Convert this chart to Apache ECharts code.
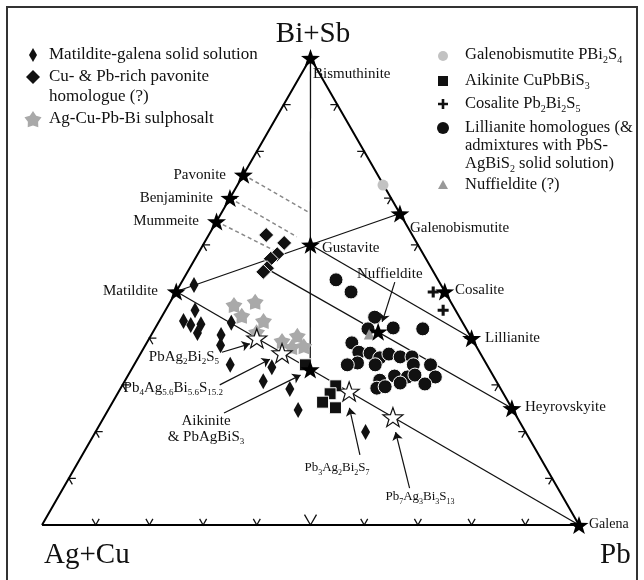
<!DOCTYPE html>
<html>
<head>
<meta charset="utf-8">
<script src="https://cdn.jsdelivr.net/npm/echarts@6/dist/echarts.min.js"></script>
<style>
html,body{margin:0;padding:0;background:#fff}
#main{width:644px;height:580px}
</style>
</head>
<body>
<div id="main"></div>
<script>
// all compositions are [Pb %, Bi+Sb %]; Ag+Cu is the remainder
var corners = [[0,0],[100,0],[0,100],[0,0]];
var tickFracs = [10,20,30,40,50,60,70,80,90];

var mineralNames = ['Bismuthinite','Pavonite','Benjaminite','Mummeite','Matildite','Gustavite',
  'Galenobismutite','Cosalite','Lillianite','Heyrovskyite','Galena','Aikinite','Nuffieldite'];
var mineralComp = [[0,100],[0,75],[0,70],[0,65],[0,50],[20,60],
  [33.3,66.7],[50,50],[60,40],[75,25],[100,0],[33.3,33.3],[41.9,41.4]];

// synthetic phases on the matildite-galena join
var synthComp = [[20,40],[26.3,36.8],[42.9,28.6],[53.8,23.1]];

var matGalena = [[2.6,51.4],[5.5,46.0],[4.5,43.7],[6.3,42.8],[8.1,43.0],[8.4,41.1],[13.6,43.3],
  [13.0,40.7],[14.0,38.5],[17.9,34.3],[25.9,33.8],[25.8,30.8],[31.6,29.1],[35.4,24.6],[50.3,19.9]];
var pavHomologue = [[10.7,62.1],[14.9,60.4],[14.8,58.0],[14.1,57.0],[14.4,55.0],[14.1,54.2]];
var sulphosalt = [[12.2,47.1],[15.8,47.8],[14.8,44.8],[19.4,43.7],[19.3,41.3],[25.0,39.4],
  [27.3,40.5],[27.5,38.1],[29.6,38.3]];
var galenobis = [[27.1,72.8]];
var aikinite = [[31.9,34.3],[39.8,29.8],[39.6,28.1],[39.1,26.3],[42.1,25.1]];
var cosalite = [[47.9,49.9],[51.7,46.0]];
var lillianite = [[28.5,52.5],[32.6,49.9],[39.7,44.5],[44.3,42.2],[49.9,42.0],[39.7,42.0],
  [38.2,39.0],[40.5,37.0],[41.4,34.7],[39.7,34.3],[42.7,36.8],[45.0,35.8],[44.9,34.3],[46.3,36.6],
  [48.7,36.0],[50.9,36.0],[52.0,34.3],[55.2,34.3],[47.4,31.0],[49.7,31.9],[52.2,31.7],[53.4,32.1],
  [57.4,31.7],[56.2,30.2],[51.5,30.4],[47.7,29.3],[49.1,29.6]];
var nuffQ = [[40.5,40.9]];

var joins = [
  [[0,100],[33.3,33.3]],
  [[0,50],[33.3,66.7]],
  [[0,50],[100,0]],
  [[20,60],[60,40]],
  [[13.2,55.5],[75,25]]
];
var dashedJoins = [
  [[0,75],[16.5,66.8]],
  [[0,70],[16.6,61.7]],
  [[0,65],[13.6,58.9]]
];
var arrows = [
  [[15.0,37.0],[19.3,38.8]],
  [[18.1,30.0],[24.7,35.5]],
  [[21.9,24.0],[32.1,32.1]],
  [[51.7,15.0],[44.7,25.1]],
  [[64.5,7.9],[55.9,19.9]],
  [[39.7,52.0],[41.6,43.5]]
];

function tern(v){ return [(v[0] + v[1]/2)/100, v[1]/100]; }

var FONT = "'Liberation Serif','Times New Roman',serif";
var STAR = 'path://M0,-10L2.35,-3.24L9.51,-3.09L3.8,1.24L5.88,8.09L0,4L-5.88,8.09L-3.8,1.24L-9.51,-3.09L-2.35,-3.24Z';
var FATSTAR = 'path://M0,-10L3.53,-4.85L9.51,-3.09L5.71,1.85L5.88,8.09L0,6L-5.88,8.09L-5.71,1.85L-9.51,-3.09L-3.53,-4.85Z';
var PLUS = 'path://M3.6,0H6.4V3.6H10V6.4H6.4V10H3.6V6.4H0V3.6H3.6Z';

function rich(s){
  return s.split(/_([0-9.]+)/).map(function(t,i){
    if (t === '') return '';
    return i % 2 ? '{s|' + t + '}' : '{n|' + t + '}';
  }).join('');
}
function richStyle(size){
  return {
    n: {fontSize: size, lineHeight: size + 4, fontFamily: FONT, color: '#111'},
    s: {fontSize: Math.round(size*0.6), lineHeight: Math.round(size*0.6), fontFamily: FONT, color: '#111', verticalAlign: 'bottom'}
  };
}
function txt(s, x, y, size, align){
  return {type:'text', x:x, y:y, z:10, style:{text: rich(s), rich: richStyle(size),
    align: align || 'left', verticalAlign:'middle', fill:'#111', font: size + 'px ' + FONT}};
}
function starPts(cx, cy, R, r){
  var p = [];
  for (var k = 0; k < 10; k++) {
    var a = -Math.PI/2 + k*Math.PI/5, rr = k % 2 ? r : R;
    p.push([cx + rr*Math.cos(a), cy + rr*Math.sin(a)]);
  }
  return p;
}

var tickData = [];
tickFracs.forEach(function(f){
  tickData.push(tern([f,0]).concat([0,f]));
  tickData.push(tern([0,f]).concat([1,f]));
  tickData.push(tern([100-f,f]).concat([2,f]));
});

var myChart = echarts.init(document.getElementById('main'));

function scat(name, data, symbol, size, color, extra){
  var s = {
    name: name, type:'scatter', clip:false, symbol: symbol, symbolSize: size,
    data: data.map(tern),
    itemStyle: Object.assign({color: color, opacity: 1}, extra || {}),
    z: 5
  };
  return s;
}

var series = [
  {
    type:'line', data: corners.map(tern), symbol:'none', clip:false, z:3,
    lineStyle:{color:'#000', width:2}
  },
  {
    type:'lines', coordinateSystem:'cartesian2d', z:2,
    data: joins.map(function(j){ return {coords: j.map(tern)}; }),
    lineStyle:{color:'#111', width:1.3, opacity:1}
  },
  {
    type:'lines', coordinateSystem:'cartesian2d', z:2,
    data: dashedJoins.map(function(j){ return {coords: j.map(tern)}; }),
    lineStyle:{color:'#888', width:1.5, type:[4,3], opacity:1}
  },
  {
    type:'lines', coordinateSystem:'cartesian2d', z:8,
    symbol:['none','arrow'], symbolSize:8,
    data: arrows.map(function(j){ return {coords: j.map(tern)}; }),
    lineStyle:{color:'#111', width:1.2, opacity:1}
  },
  {
    type:'custom', coordinateSystem:'cartesian2d', z:3, silent:true, data: tickData,
    renderItem: function(params, api){
      var c = api.coord([api.value(0), api.value(1)]);
      var e = api.value(2), f = api.value(3);
      var len = (e === 0 && f === 50) ? 12 : 7;
      var arms = e === 0 ? [[-0.5,-0.866],[0.5,-0.866]] :
                 e === 1 ? [[1,0],[0.5,0.866]] : [[-1,0],[-0.5,0.866]];
      return {
        type:'polyline',
        shape:{points:[[c[0]+arms[0][0]*len, c[1]+arms[0][1]*len], c,
                       [c[0]+arms[1][0]*len, c[1]+arms[1][1]*len]]},
        style:{stroke:'#111', lineWidth:1.3, fill:null}
      };
    }
  },
  scat('Matildite-galena solid solution', matGalena, 'diamond', [9,16], '#111'),
  scat('Cu- & Pb-rich pavonite homologue (?)', pavHomologue, 'diamond', [15,15], '#111', {borderColor:'#fff', borderWidth:1}),
  scat('Ag-Cu-Pb-Bi sulphosalt', sulphosalt, FATSTAR, [17,16], '#a9a9a9'),
  scat('Lillianite homologues', lillianite, 'circle', 14, '#111', {borderColor:'#fff', borderWidth:1}),
  scat('Aikinite CuPbBiS3', aikinite, 'rect', 12, '#111', {borderColor:'#fff', borderWidth:1}),
  scat('Cosalite Pb2Bi2S5', cosalite, PLUS, 11, '#111'),
  scat('Nuffieldite (?)', nuffQ, 'triangle', 11, '#999'),
  scat('Galenobismutite PBi2S4', galenobis, 'circle', 11, '#c2c2c2'),
  Object.assign(scat('Synthetic phases', synthComp, STAR, [20,19], '#fff', {borderColor:'#111', borderWidth:1.2}), {z:6}),
  Object.assign(scat('Minerals', mineralComp, STAR, [19,18], '#000'), {z:7})
];

var graphic = [
  {type:'rect', shape:{x:7, y:7, width:630, height:600}, style:{fill:'none', stroke:'#333', lineWidth:2}, z:20},
  // corner labels
  txt('Bi+Sb', 313, 34, 29, 'center'),
  txt('Ag+Cu', 44, 555, 29, 'left'),
  txt('Pb', 600, 555, 29, 'left'),
  // mineral labels
  txt('Bismuthinite', 313, 74, 15),
  txt('Pavonite', 226, 175, 15, 'right'),
  txt('Benjaminite', 213, 198, 15, 'right'),
  txt('Mummeite', 199, 221, 15, 'right'),
  txt('Matildite', 158, 291, 15, 'right'),
  txt('Gustavite', 322, 248, 15),
  txt('Galenobismutite', 410, 228, 15),
  txt('Nuffieldite', 357, 274, 15),
  txt('Cosalite', 455, 290, 15),
  txt('Lillianite', 485, 338, 15),
  txt('Heyrovskyite', 525, 407, 15),
  txt('Galena', 589, 524, 14),
  txt('PbAg_2Bi_2S_5', 219, 357, 15, 'right'),
  txt('Pb_4Ag_5.6Bi_5.6S_15.2', 223, 388, 15, 'right'),
  txt('Aikinite', 206, 421, 15, 'center'),
  txt('& PbAgBiS_3', 206, 437, 15, 'center'),
  txt('Pb_3Ag_2Bi_2S_7', 337, 468, 13, 'center'),
  txt('Pb_7Ag_3Bi_3S_13', 420, 497, 13, 'center'),
  // left legend
  {type:'polygon', shape:{points:[[33,48],[37,55],[33,62],[29,55]]}, style:{fill:'#111'}},
  txt('Matildite-galena solid solution', 49, 55, 17),
  {type:'polygon', shape:{points:[[33,70],[40,77],[33,84],[26,77]]}, style:{fill:'#111'}},
  txt('Cu- & Pb-rich pavonite', 49, 77, 17),
  txt('homologue (?)', 49, 97, 17),
  {type:'polygon', shape:{points:starPts(33,120,9,5.4)}, style:{fill:'#a9a9a9'}},
  txt('Ag-Cu-Pb-Bi sulphosalt', 49, 119, 17),
  // right legend
  {type:'circle', shape:{cx:443, cy:56, r:5}, style:{fill:'#c2c2c2'}},
  txt('Galenobismutite PBi_2S_4', 465, 55, 16.5),
  {type:'rect', shape:{x:438, y:76, width:10, height:10}, style:{fill:'#111'}},
  txt('Aikinite CuPbBiS_3', 465, 81, 16.5),
  {type:'polygon', shape:{points:[[441.7,99],[444.3,99],[444.3,102.7],[448,102.7],[448,105.3],[444.3,105.3],[444.3,109],[441.7,109],[441.7,105.3],[438,105.3],[438,102.7],[441.7,102.7]]}, style:{fill:'#111'}},
  txt('Cosalite Pb_2Bi_2S_5', 465, 104, 16.5),
  {type:'circle', shape:{cx:443, cy:128, r:6}, style:{fill:'#111'}},
  txt('Lillianite homologues (&', 465, 128, 16.5),
  txt('admixtures with PbS-', 465, 146, 16.5),
  txt('AgBiS_2 solid solution)', 465, 164, 16.5),
  {type:'polygon', shape:{points:[[443,180],[448,189],[438,189]]}, style:{fill:'#999'}},
  txt('Nuffieldite (?)', 465, 185, 16.5)
];

var option = {
  animation: false,
  grid: {left:42, top:58, width:537, height:467},
  xAxis: {type:'value', min:0, max:1, show:false},
  yAxis: {type:'value', min:0, max:1, show:false},
  series: series,
  graphic: graphic
};
myChart.setOption(option);
</script>
</body>
</html>
